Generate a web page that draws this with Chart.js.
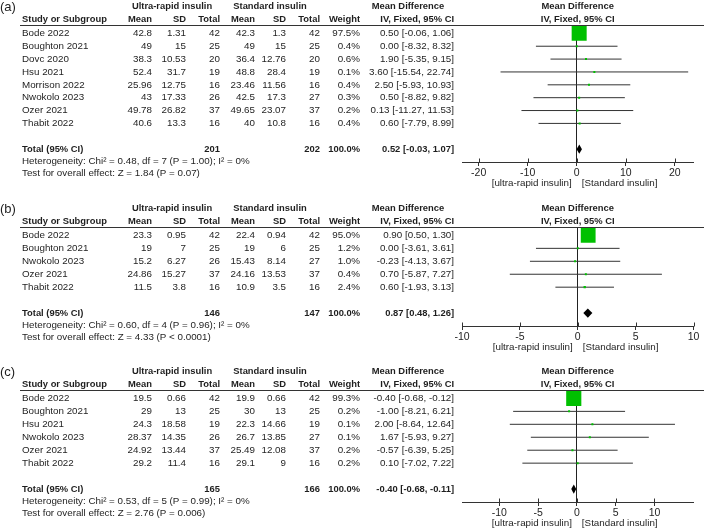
<!DOCTYPE html>
<html>
<head>
<meta charset="utf-8">
<script src="https://cdn.jsdelivr.net/npm/chart.js@4.4.1/dist/chart.umd.min.js"></script>
<style>
  html, body { margin: 0; padding: 0; background: #fff; }
  #wrap { position: relative; width: 704px; height: 528px; overflow: hidden; }
  canvas { position: absolute; left: 0; }
</style>
</head>
<body>
<div id="wrap">
  <canvas id="chartA" width="704" height="190" style="top:0px"></canvas>
  <canvas id="chartB" width="704" height="168" style="top:186px"></canvas>
  <canvas id="chartC" width="704" height="180" style="top:348px"></canvas>
</div>
<script>
// (a)
const studiesA = ['Bode 2022', 'Boughton 2021', 'Dovc 2020', 'Hsu 2021', 'Morrison 2022', 'Nwokolo 2023', 'Ozer 2021', 'Thabit 2022'];
const ultraMeanA = [42.8, 49, 38.3, 52.4, 25.96, 43, 49.78, 40.6];
const ultraSdA = [1.31, 15, 10.53, 31.7, 12.75, 17.33, 26.82, 13.3];
const ultraNA = [42, 25, 20, 19, 16, 26, 37, 16];
const stdMeanA = [42.3, 49, 36.4, 48.8, 23.46, 42.5, 49.65, 40];
const stdSdA = [1.3, 15, 12.76, 28.4, 11.56, 17.3, 23.07, 10.8];
const stdNA = [42, 25, 20, 19, 16, 27, 37, 16];
const weightA = [97.5, 0.4, 0.6, 0.1, 0.4, 0.3, 0.2, 0.4];
const mdA = [0.50, 0.00, 1.90, 3.60, 2.50, 0.50, 0.13, 0.60];
const loA = [-0.06, -8.32, -5.35, -15.54, -5.93, -8.82, -11.27, -7.79];
const hiA = [1.06, 8.32, 9.15, 22.74, 10.93, 9.82, 11.53, 8.99];
const totalA = [0.52, -0.03, 1.07];
const totalNA = [201, 202];
const hetA = 'Heterogeneity: Chi\u00b2 = 0.48, df = 7 (P = 1.00); I\u00b2 = 0%';
const testA = 'Test for overall effect: Z = 1.84 (P = 0.07)';
const ticksA = [-20, -10, 0, 10, 20];
const rangeA = [-23.4, 23.8];

// (b)
const studiesB = ['Bode 2022', 'Boughton 2021', 'Nwokolo 2023', 'Ozer 2021', 'Thabit 2022'];
const ultraMeanB = [23.3, 19, 15.2, 24.86, 11.5];
const ultraSdB = [0.95, 7, 6.27, 15.27, 3.8];
const ultraNB = [42, 25, 26, 37, 16];
const stdMeanB = [22.4, 19, 15.43, 24.16, 10.9];
const stdSdB = [0.94, 6, 8.14, 13.53, 3.5];
const stdNB = [42, 25, 27, 37, 16];
const weightB = [95.0, 1.2, 1.0, 0.4, 2.4];
const mdB = [0.90, 0.00, -0.23, 0.70, 0.60];
const loB = [0.50, -3.61, -4.13, -5.87, -1.93];
const hiB = [1.30, 3.61, 3.67, 7.27, 3.13];
const totalB = [0.87, 0.48, 1.26];
const totalNB = [146, 147];
const hetB = 'Heterogeneity: Chi\u00b2 = 0.60, df = 4 (P = 0.96); I\u00b2 = 0%';
const testB = 'Test for overall effect: Z = 4.33 (P < 0.0001)';
const ticksB = [-10, -5, 0, 5, 10];
const rangeB = [-10, 10];

// (c)
const studiesC = ['Bode 2022', 'Boughton 2021', 'Hsu 2021', 'Nwokolo 2023', 'Ozer 2021', 'Thabit 2022'];
const ultraMeanC = [19.5, 29, 24.3, 28.37, 24.92, 29.2];
const ultraSdC = [0.66, 13, 18.58, 14.35, 13.44, 11.4];
const ultraNC = [42, 25, 19, 26, 37, 16];
const stdMeanC = [19.9, 30, 22.3, 26.7, 25.49, 29.1];
const stdSdC = [0.66, 13, 14.66, 13.85, 12.08, 9];
const stdNC = [42, 25, 19, 27, 37, 16];
const weightC = [99.3, 0.2, 0.1, 0.1, 0.2, 0.2];
const mdC = [-0.40, -1.00, 2.00, 1.67, -0.57, 0.10];
const loC = [-0.68, -8.21, -8.64, -5.93, -6.39, -7.02];
const hiC = [-0.12, 6.21, 12.64, 9.27, 5.25, 7.22];
const totalC = [-0.40, -0.68, -0.11];
const totalNC = [165, 166];
const hetC = 'Heterogeneity: Chi\u00b2 = 0.53, df = 5 (P = 0.99); I\u00b2 = 0%';
const testC = 'Test for overall effect: Z = 2.76 (P = 0.006)';
const ticksC = [-10, -5, 0, 5, 10];
const rangeC = [-14.8, 15.0];

const font = 'Arial, "Liberation Sans", sans-serif';
const textColor = '#1e1e1e';
const lineColor = '#333';

function ciText(m, l, h) {
    return `${m.toFixed(2)} [${l.toFixed(2)}, ${h.toFixed(2)}]`;
}

function tablePlugin(p) {
    return {
        id: 'forestTable',
        afterDraw(chart) {
            const ctx = chart.ctx;
            const ys = chart.scales.y;
            const xs = chart.scales.x;
            const area = chart.chartArea;
            const top = area.top;
            const n = p.studies.length;
            const zero = xs.getPixelForValue(0);
            const mid = (area.left + area.right) / 2;

            const put = (t, x, y, align, bold) => {
                ctx.font = bold ? 'bold 9.4px ' + font : '9.8px ' + font;
                ctx.textAlign = align;
                ctx.fillText(t, x, y);
            };

            ctx.save();
            ctx.fillStyle = textColor;
            ctx.textBaseline = 'middle';

            ctx.font = '13px ' + font;
            ctx.textAlign = 'left';
            ctx.fillText(p.tag, 0, top - 18);

            const gy = top - 19, hy = top - 6;
            put('Ultra-rapid insulin', 172, gy, 'center', true);
            put('Standard insulin', 270, gy, 'center', true);
            put('Mean Difference', 408, gy, 'center', true);
            put('Mean Difference', mid, gy, 'center', true);

            put('Study or Subgroup', 22, hy, 'left', true);
            put('Mean', 152, hy, 'right', true);
            put('SD', 186, hy, 'right', true);
            put('Total', 220, hy, 'right', true);
            put('Mean', 255, hy, 'right', true);
            put('SD', 286, hy, 'right', true);
            put('Total', 320, hy, 'right', true);
            put('Weight', 360, hy, 'right', true);
            put('IV, Fixed, 95% CI', 454, hy, 'right', true);
            put('IV, Fixed, 95% CI', mid, hy, 'center', true);

            ctx.strokeStyle = lineColor;
            ctx.lineWidth = 1;
            ctx.beginPath();
            ctx.moveTo(20, Math.round(top) + 0.5);
            ctx.lineTo(704, Math.round(top) + 0.5);
            ctx.stroke();

            p.studies.forEach((s, i) => {
                const y = ys.getPixelForValue(i);
                put(s, 22, y, 'left', false);
                put(String(p.uMean[i]), 152, y, 'right', false);
                put(String(p.uSd[i]), 186, y, 'right', false);
                put(String(p.uN[i]), 220, y, 'right', false);
                put(String(p.sMean[i]), 255, y, 'right', false);
                put(String(p.sSd[i]), 286, y, 'right', false);
                put(String(p.sN[i]), 320, y, 'right', false);
                put(p.weight[i].toFixed(1) + '%', 360, y, 'right', false);
                put(ciText(p.md[i], p.lo[i], p.hi[i]), 454, y, 'right', false);
            });

            const ty = ys.getPixelForValue(n + 1);
            put('Total (95% CI)', 22, ty, 'left', true);
            put(String(p.totalN[0]), 220, ty, 'right', true);
            put(String(p.totalN[1]), 320, ty, 'right', true);
            put('100.0%', 360, ty, 'right', true);
            put(ciText(p.total[0], p.total[1], p.total[2]), 454, ty, 'right', true);

            put(p.het, 22, ys.getPixelForValue(n + 1.95), 'left', false);
            put(p.test, 22, ys.getPixelForValue(n + 2.9), 'left', false);

            // pooled diamond
            const dl = xs.getPixelForValue(p.total[1]);
            const dm = xs.getPixelForValue(p.total[0]);
            const dr = xs.getPixelForValue(p.total[2]);
            ctx.fillStyle = '#000';
            ctx.beginPath();
            ctx.moveTo(Math.min(dl, dm - 2.5), ty);
            ctx.lineTo(dm, ty - 4.6);
            ctx.lineTo(Math.max(dr, dm + 2.5), ty);
            ctx.lineTo(dm, ty + 4.6);
            ctx.closePath();
            ctx.fill();

            // tick marks above the axis
            const ab = Math.round(area.bottom) + 0.5;
            ctx.strokeStyle = lineColor;
            ctx.beginPath();
            p.ticks.forEach(v => {
                const x = Math.round(xs.getPixelForValue(v)) + 0.5;
                ctx.moveTo(x, ab - 4);
                ctx.lineTo(x, ab);
            });
            ctx.stroke();

            ctx.fillStyle = textColor;
            put('[ultra-rapid insulin]', zero - 5, area.bottom + 21, 'right', false);
            put('[Standard insulin]', zero + 5, area.bottom + 21, 'left', false);
            ctx.restore();
        }
    };
}

function forestPanel(canvasId, p) {
    const canvas = document.getElementById(canvasId);
    const H = canvas.height;
    const n = p.studies.length;
    new Chart(canvas, {
        type: 'scatter',
        data: {
            datasets: [
                {
                    data: p.md.map((m, i) => ({ x: m, y: i })),
                    pointStyle: 'rect',
                    pointRadius: p.weight.map(w => Math.max(2, 15.2 * Math.sqrt(w / 100)) / Math.SQRT2),
                    backgroundColor: '#00c000',
                    borderWidth: 0,
                    order: 0
                },
                ...p.lo.map((l, i) => ({
                    type: 'line',
                    data: [{ x: l, y: i }, { x: p.hi[i], y: i }],
                    borderColor: lineColor,
                    borderWidth: 1,
                    pointRadius: 0,
                    order: 1
                }))
            ]
        },
        options: {
            responsive: false,
            animation: false,
            devicePixelRatio: 1,
            layout: { padding: { left: 462, right: 9, top: p.lineY, bottom: 0 } },
            plugins: { legend: { display: false }, tooltip: { enabled: false } },
            scales: {
                x: {
                    type: 'linear',
                    position: 'bottom',
                    min: p.range[0],
                    max: p.range[1],
                    afterBuildTicks: s => { s.ticks = p.ticks.map(v => ({ value: v })); },
                    afterFit: s => { s.height = H - p.axisY; s.paddingLeft = 0; s.paddingRight = 0; },
                    grid: {
                        color: c => (c.tick && c.tick.value === 0) ? '#222' : 'rgba(0,0,0,0)',
                        tickColor: lineColor,
                        tickLength: 4,
                        lineWidth: 1
                    },
                    border: { display: true, color: lineColor, width: 1 },
                    ticks: { font: { family: font, size: 10.5 }, color: textColor, padding: 1, maxRotation: 0, autoSkip: false }
                },
                y: { type: 'linear', display: false, reverse: true, min: -0.65, max: n + 2 }
            }
        },
        plugins: [tablePlugin(p)]
    });
}

forestPanel('chartA', {
    tag: '(a)', studies: studiesA, uMean: ultraMeanA, uSd: ultraSdA, uN: ultraNA,
    sMean: stdMeanA, sSd: stdSdA, sN: stdNA, weight: weightA, md: mdA, lo: loA, hi: hiA,
    total: totalA, totalN: totalNA, het: hetA, test: testA, ticks: ticksA, range: rangeA,
    lineY: 25, axisY: 162
});
forestPanel('chartB', {
    tag: '(b)', studies: studiesB, uMean: ultraMeanB, uSd: ultraSdB, uN: ultraNB,
    sMean: stdMeanB, sSd: stdSdB, sN: stdNB, weight: weightB, md: mdB, lo: loB, hi: hiB,
    total: totalB, totalN: totalNB, het: hetB, test: testB, ticks: ticksB, range: rangeB,
    lineY: 41, axisY: 140
});
forestPanel('chartC', {
    tag: '(c)', studies: studiesC, uMean: ultraMeanC, uSd: ultraSdC, uN: ultraNC,
    sMean: stdMeanC, sSd: stdSdC, sN: stdNC, weight: weightC, md: mdC, lo: loC, hi: hiC,
    total: totalC, totalN: totalNC, het: hetC, test: testC, ticks: ticksC, range: rangeC,
    lineY: 42, axisY: 154
});
</script>
</body>
</html>
